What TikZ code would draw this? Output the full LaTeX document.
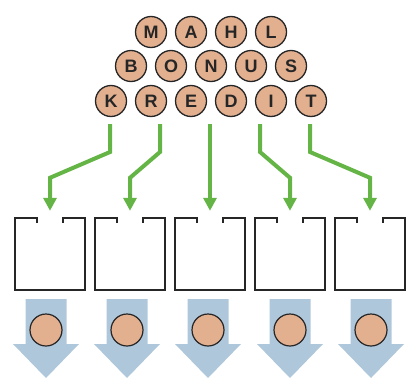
\documentclass[tikz,border=0pt]{standalone}
\usepackage{fontspec}
\setmainfont{Liberation Sans}
\usetikzlibrary{arrows.meta,calc}
\definecolor{chip}{HTML}{E2AF8F}
\definecolor{ink}{HTML}{262626}
\definecolor{leaf}{HTML}{64B446}
\definecolor{sky}{HTML}{AFC7DA}
\tikzset{
  letter/.style={circle,draw=ink,line width=1.3pt,fill=chip,minimum size=31pt,inner sep=0pt,
    font=\fontsize{18}{18}\selectfont\bfseries,text=ink},
  slot/.style={rectangle,minimum width=70pt,minimum height=72pt,inner sep=0pt},
  slotline/.style={draw=ink,line width=1.8pt,line join=miter},
  feed/.style={draw=leaf,line width=4pt,-{Triangle[width=13pt,length=13pt]}},
  outarrow/.style={fill=sky,draw=none},
  token/.style={circle,draw=ink,line width=1.2pt,fill=chip,minimum size=32pt,inner sep=0pt}
}
\begin{document}
\begin{tikzpicture}[x=1pt,y=-1pt]
\useasboundingbox (0,0) rectangle (414,380);
% letter chips
\foreach \l [count=\i] in {M,A,H,L}
  \node[letter] (r1-\i) at ({151+40*(\i-1)},32) {\l};
\foreach \l [count=\i] in {B,O,N,U,S}
  \node[letter] (r2-\i) at ({131+40*(\i-1)},66) {\l};
\foreach \l [count=\i] in {K,R,E,D,I,T}
  \node[letter] (r3-\i) at ({111+40*(\i-1)},101) {\l};
% open-topped boxes, the opening edged by short lips
\foreach \i in {1,...,5} {
  \node[slot] (b\i) at ({50+80*(\i-1)},254) {};
  \draw[slotline] ($(b\i.north west)+(22,5)$) -- ++(0,-5) -- (b\i.north west) -- (b\i.south west)
     -- (b\i.south east) -- (b\i.north east) -- ($(b\i.north east)+(-22,0)$) -- ++(0,5);
}
% start points of the feed lines
\foreach \i in {1,...,5}
  \coordinate (s\i) at ({110+50*(\i-1)},124);
\foreach \i in {1,...,5}
  \coordinate (t\i) at ($(b\i.north)+(0,-7)$);
% feed arrows
\draw[feed] (s1) -- ++(0,28) -- ($(t1)+(0,-33)$) -- (t1);
\draw[feed] (s2) -- ++(0,28) -- ($(t2)+(0,-33)$) -- (t2);
\draw[feed] (s3) -- (t3);
\draw[feed] (s4) -- ++(0,28) -- ($(t4)+(0,-33)$) -- (t4);
\draw[feed] (s5) -- ++(0,28) -- ($(t5)+(0,-33)$) -- (t5);
% output arrows with tokens
\foreach \c [count=\i] in {46,127,208,290,371} {
  \fill[outarrow] (\c-20.5,299) -- (\c+20.5,299) -- (\c+20.5,344) -- (\c+33,344)
     -- (\c,378) -- (\c-33,344) -- (\c-20.5,344) -- cycle;
  \node[token] (o\i) at (\c,330) {};
}
\end{tikzpicture}
\end{document}
